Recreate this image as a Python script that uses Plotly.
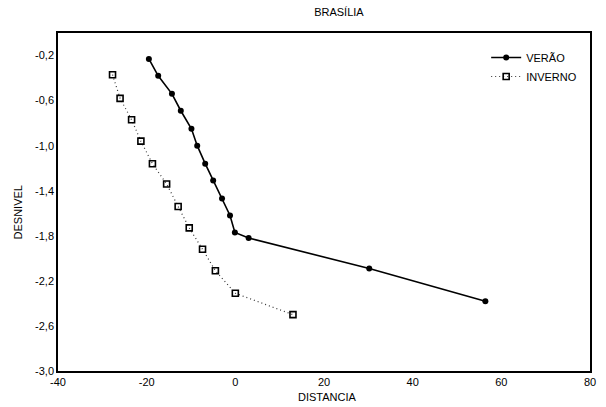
import plotly.graph_objects as go

verao_x = [-19.5, -17.4, -14.3, -12.3, -9.9, -8.6, -6.8, -5.0, -3.0, -1.2, -0.1, 3.0, 30.2, 56.4]
verao_y = [-0.23, -0.38, -0.54, -0.69, -0.85, -1.00, -1.16, -1.31, -1.47, -1.62, -1.77, -1.82, -2.09, -2.38]

inverno_x = [-27.7, -26.0, -23.4, -21.3, -18.7, -15.5, -12.9, -10.4, -7.4, -4.5, 0.0, 13.0]
inverno_y = [-0.37, -0.58, -0.77, -0.96, -1.16, -1.34, -1.54, -1.73, -1.92, -2.11, -2.31, -2.50]

x_ticks = [-40, -20, 0, 20, 40, 60, 80]
x_tick_text = ["-40", "-20", "0", "20", "40", "60", "80"]
y_ticks = [-3.0, -2.6, -2.2, -1.8, -1.4, -1.0, -0.6, -0.2]
y_tick_text = ["-3,0", "-2,6", "-2,2", "-1,8", "-1,4", "-1,0", "-0,6", "-0,2"]

FONT = "Liberation Sans, Arial, sans-serif"
W, H = 538, 338  # plot area in pixels

fig = go.Figure()
fig.add_trace(go.Scatter(
    x=verao_x, y=verao_y, mode="lines+markers", name="VERÃO",
    line=dict(color="black", width=1.6),
    marker=dict(symbol="circle", size=6, color="black"),
))
fig.add_trace(go.Scatter(
    x=inverno_x, y=inverno_y, mode="lines+markers", name="INVERNO",
    line=dict(color="#333333", width=1.2, dash="1px,3px"),
    marker=dict(symbol="square-open", size=6, color="black", line=dict(width=1.6)),
))

fig.update_layout(
    width=606, height=407,
    margin=dict(l=58, r=10, t=33, b=36),
    paper_bgcolor="white", plot_bgcolor="white",
    font=dict(family=FONT, size=11, color="black"),
    title=dict(text="BRASÍLIA", x=320/606, xanchor="center", xref="paper",
               y=1 - 12/407, yref="container", yanchor="middle",
               font=dict(size=11, family=FONT, color="black")),
    showlegend=True,
    legend=dict(x=(491-58)/W, y=1 - (43-33)/H, xanchor="left", yanchor="top",
                bgcolor="rgba(0,0,0,0)", font=dict(size=11, family=FONT),
                itemwidth=30, tracegroupgap=0),
    xaxis=dict(range=[-40, 80], tickvals=x_ticks, ticktext=x_tick_text,
               showgrid=False, zeroline=False, showline=True, linecolor="black",
               linewidth=1.5, mirror=True, ticks="", tickfont=dict(size=11)),
    yaxis=dict(range=[-3.0, 0.0], tickvals=y_ticks, ticktext=y_tick_text,
               showgrid=False, zeroline=False, showline=True, linecolor="black",
               linewidth=1.5, mirror=True, ticks="", tickfont=dict(size=11)),
    annotations=[
        dict(text="DISTANCIA", x=(331-58)/W, y=(371-397)/H, xref="paper", yref="paper",
             showarrow=False, xanchor="center", yanchor="middle",
             font=dict(size=11, family=FONT)),
        dict(text="DESNIVEL", x=(18-58)/W, y=(371-212)/H, xref="paper", yref="paper",
             showarrow=False, textangle=-90, xanchor="center", yanchor="middle",
             font=dict(size=11, family=FONT)),
    ],
)

fig.write_html("out.html")
